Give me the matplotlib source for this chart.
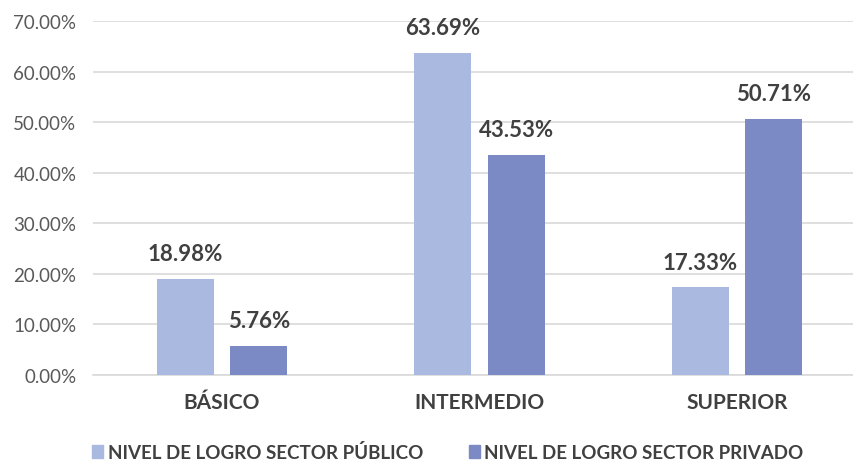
import numpy as np
import matplotlib
matplotlib.use("Agg")
import matplotlib.pyplot as plt
from matplotlib.patches import Patch

plt.rcParams['font.family'] = ['Lato', 'DejaVu Sans']

# Datos
niveles = ['BÁSICO', 'INTERMEDIO', 'SUPERIOR']
publico = [18.98, 63.69, 17.33]
privado = [5.76, 43.53, 50.71]
series = ['NIVEL DE LOGRO SECTOR PÚBLICO', 'NIVEL DE LOGRO SECTOR PRIVADO']

col_pub = '#A9B9DF'
col_priv = '#7B8AC5'
texto = '#404040'

fig = plt.figure(figsize=(8.54, 4.64), dpi=100)
ax = fig.add_axes([93/854, 1-376/464, 1-93/854, 354/464])

x = np.arange(len(niveles))
ancho = 0.222
b1 = ax.bar(x - 0.143, publico, ancho, color=col_pub, zorder=3)
b2 = ax.bar(x + 0.143, privado, ancho, color=col_priv, zorder=3)

for barras, vals in [(b1, publico), (b2, privado)]:
    for b, v in zip(barras, vals):
        ax.text(b.get_x() + b.get_width()/2, v + 2.9, f'{v:.2f}%', ha='center', va='bottom',
                fontsize=16, fontweight='bold', color=texto)

ax.set_xlim(-0.501, 2.454)
ax.set_ylim(0, 70)
ax.set_yticks(np.arange(0, 71, 10))
ax.set_yticklabels([f'{t:.2f}%' for t in np.arange(0, 71, 10)], fontsize=13.5, color='#595959')
ax.set_xticks(x)
ax.set_xticklabels(niveles, fontsize=15, fontweight='bold', color=texto)
ax.tick_params(axis='both', length=0)
ax.tick_params(axis='y', pad=12)
ax.tick_params(axis='x', pad=12)
ax.grid(axis='y', color='#D9D9D9', linewidth=1.2, zorder=0)
for s in ['top', 'right', 'left']:
    ax.spines[s].set_visible(False)
ax.spines['bottom'].set_color('#D9D9D9')
ax.spines['bottom'].set_linewidth(1.2)

handles = [Patch(color=col_pub), Patch(color=col_priv)]
leg = fig.legend(handles, series, loc='center', bbox_to_anchor=(448/854, 1-453/464), ncol=2,
                 frameon=False, handlelength=0.6, handleheight=0.7, handletextpad=0.25,
                 columnspacing=2.4, prop={'size': 13.5, 'weight': 'bold'})
for t in leg.get_texts():
    t.set_color(texto)

fig.savefig('out.png', dpi=100)
